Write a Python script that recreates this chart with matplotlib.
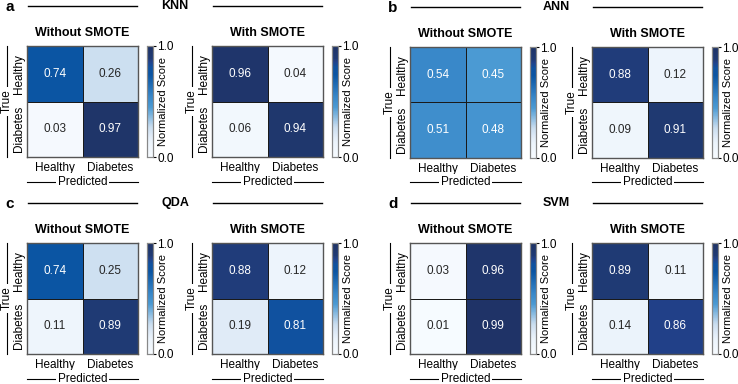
import matplotlib
matplotlib.use('Agg')
import matplotlib.pyplot as plt
import numpy as np
import seaborn as sns
from matplotlib.colors import LinearSegmentedColormap
from matplotlib.lines import Line2D

plt.rcParams['font.family'] = ['Liberation Sans', 'DejaVu Sans']

classes = ["Healthy", "Diabetes"]
models = ["KNN", "ANN", "QDA", "SVM"]
panel_letters = ["a", "b", "c", "d"]
conditions = ["Without SMOTE", "With SMOTE"]

knn_without = [[0.74, 0.26], [0.03, 0.97]]
knn_with = [[0.96, 0.04], [0.06, 0.94]]
ann_without = [[0.54, 0.45], [0.51, 0.48]]
ann_with = [[0.88, 0.12], [0.09, 0.91]]
qda_without = [[0.74, 0.25], [0.11, 0.89]]
qda_with = [[0.88, 0.12], [0.19, 0.81]]
svm_without = [[0.03, 0.96], [0.01, 0.99]]
svm_with = [[0.89, 0.11], [0.14, 0.86]]

matrices = [(knn_without, knn_with), (ann_without, ann_with),
            (qda_without, qda_with), (svm_without, svm_with)]

# custom blue map
cmap = LinearSegmentedColormap.from_list("cm_blues", [
    (0.00, "#f7fbff"), (0.14, "#ebf3fb"), (0.20, "#dde9f6"), (0.27, "#c9ddef"),
    (0.45, "#4b9ad3"), (0.55, "#3786c8"), (0.74, "#0b55a3"), (0.81, "#0f52a0"),
    (0.86, "#21418a"), (0.89, "#1f3a74"), (1.00, "#1f3366")])

W, H = 738, 384
fig = plt.figure(figsize=(W / 100, H / 100), dpi=100)


def rect(x, y, w, h):
    return [x / W, 1 - (y + h) / H, w / W, h / H]


def fx(x):
    return x / W


def fy(y):
    return 1 - y / H


# panel origins (x offset, y offset) in pixels
origins = [(0, 0), (383, 1), (0, 197), (383, 197)]
right_off = [185, 182, 185, 182]
hm_w, hm_h = 111, 111

for p in range(4):
    ox, oy = origins[p]
    hx = [ox + 27, ox + 27 + right_off[p]]
    top = oy + 46
    # header
    fig.text(fx(ox + 5), fy(oy + 7), panel_letters[p], fontsize=11, fontweight='bold',
             ha='left', va='center')
    for x0 in hx:
        fig.add_artist(Line2D([fx(x0 + 1), fx(x0 + hm_w - 1)], [fy(oy + 6), fy(oy + 6)],
                              color='black', lw=1.0, transform=fig.transFigure))
    fig.text(fx((hx[0] + hm_w + hx[1]) / 2), fy(oy + 6), models[p], fontsize=9,
             fontweight='bold', ha='center', va='center')

    for k in range(2):
        ax = fig.add_axes(rect(hx[k], top, hm_w, hm_h))
        cax = fig.add_axes(rect(hx[k] + 120, top, 6, hm_h))
        data = np.array(matrices[p][k])
        sns.heatmap(data, ax=ax, cmap=cmap, vmin=0, vmax=1, annot=True, fmt='.2f',
                    annot_kws={'fontsize': 8.5}, linewidths=0.7, linecolor='#1a1a1a',
                    cbar_ax=cax, xticklabels=classes, yticklabels=classes)
        for s in ax.spines.values():
            s.set_visible(True)
            s.set_color('#555555')
            s.set_linewidth(1.0)
        ax.tick_params(axis='y', length=0, labelsize=8.5, pad=1.5)
        ax.tick_params(axis='x', length=0, labelsize=8.5, pad=3.5)
        ax.set_yticklabels(classes, rotation=90, va='center')
        ax.set_xticklabels(classes, rotation=0)
        ax.set_title(conditions[k], fontsize=9, fontweight='bold', pad=7)

        # "True" label with bracket line
        lx = -20.5 / hm_w
        ax.plot([lx, lx], [0.0, 1.0], color='black', lw=0.8, transform=ax.transAxes,
                clip_on=False, zorder=1.0)
        ax.text(lx, 0.5, "True", rotation=90, fontsize=8.5, ha='center', va='center',
                transform=ax.transAxes, zorder=1.2,
                bbox=dict(facecolor='white', edgecolor='none', pad=2.0))
        # "Predicted" label with line
        ly = -24.5 / hm_h
        ax.plot([0.0, 1.0], [ly, ly], color='black', lw=0.8, transform=ax.transAxes,
                clip_on=False)
        ax.text(0.5, ly, "Predicted", fontsize=8.5, ha='center', va='center',
                transform=ax.transAxes,
                bbox=dict(facecolor='white', edgecolor='none', pad=1.5))

        cax.set_yticks([0, 1])
        cax.set_yticklabels(["0.0", "1.0"])
        cax.tick_params(length=2, labelsize=8.5, pad=1)
        cax.text(2.6, 0.5, "Normalized Score", rotation=90, fontsize=8,
                 ha='center', va='center', transform=cax.transAxes)
        for s in cax.spines.values():
            s.set_visible(True)
            s.set_color('#888888')
            s.set_linewidth(0.8)

plt.savefig('out.png', dpi=100)
